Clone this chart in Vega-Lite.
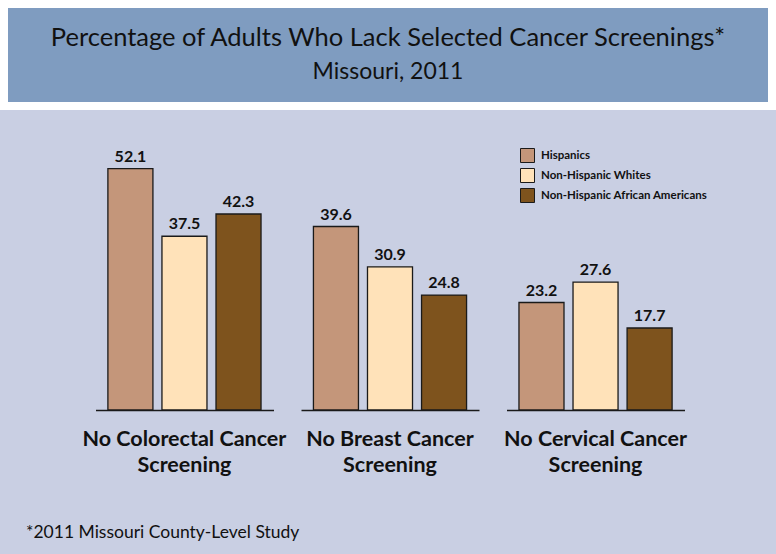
{
  "$schema": "https://vega.github.io/schema/vega-lite/v6.json",
  "background": "#c9cfe3",
  "padding": {"left": 0, "top": 0, "right": 0, "bottom": 17},
  "spacing": 22,
  "config": {"font": "Lato", "view": {"stroke": null}},
  "datasets": {
    "screenings": [
      {"category": "No Colorectal Cancer Screening", "group": "Hispanics", "value": 52.1},
      {"category": "No Colorectal Cancer Screening", "group": "Non-Hispanic Whites", "value": 37.5},
      {"category": "No Colorectal Cancer Screening", "group": "Non-Hispanic African Americans", "value": 42.3},
      {"category": "No Breast Cancer Screening", "group": "Hispanics", "value": 39.6},
      {"category": "No Breast Cancer Screening", "group": "Non-Hispanic Whites", "value": 30.9},
      {"category": "No Breast Cancer Screening", "group": "Non-Hispanic African Americans", "value": 24.8},
      {"category": "No Cervical Cancer Screening", "group": "Hispanics", "value": 23.2},
      {"category": "No Cervical Cancer Screening", "group": "Non-Hispanic Whites", "value": 27.6},
      {"category": "No Cervical Cancer Screening", "group": "Non-Hispanic African Americans", "value": 17.7}
    ],
    "banner": [
      {"line": 1, "text": "Percentage of Adults Who Lack Selected Cancer Screenings*"},
      {"line": 2, "text": "Missouri, 2011"}
    ]
  },
  "vconcat": [
    {
      "width": 768,
      "height": 102,
      "view": {"fill": "#7f9cc0", "stroke": "#ffffff", "strokeWidth": 8},
      "data": {"name": "banner"},
      "encoding": {
        "y": {"field": "line", "type": "ordinal", "axis": null, "scale": {"type": "point", "padding": 1.02}},
        "text": {"field": "text", "type": "nominal"}
      },
      "layer": [
        {"transform": [{"filter": "datum.line == 1"}], "mark": {"type": "text", "fontSize": 25.5, "color": "#111111"}},
        {"transform": [{"filter": "datum.line == 2"}], "mark": {"type": "text", "fontSize": 23, "color": "#111111"}}
      ]
    },
    {
      "width": 772,
      "height": 278,
      "data": {"name": "screenings"},
      "title": {
        "text": "*2011 Missouri County-Level Study",
        "orient": "bottom", "anchor": "start", "frame": "group",
        "dx": 22, "offset": 48, "fontSize": 17.5, "fontWeight": "normal", "color": "#111111", "font": "Lato"
      },
      "encoding": {
        "x": {
          "field": "category", "type": "nominal",
          "sort": ["No Colorectal Cancer Screening", "No Breast Cancer Screening", "No Cervical Cancer Screening"],
          "title": null,
          "scale": {"paddingInner": 0.134, "paddingOuter": 0.445},
          "axis": {
            "domain": true, "domainColor": "#1a1a1a", "domainWidth": 1.5,
            "domainDash": [0, 91.5, 178, 27.5, 178, 27.5, 178, 200],
            "ticks": false, "tickSize": 0, "labelPadding": 18,
            "labelFont": "Lato", "labelFontSize": 21.5, "labelFontWeight": "bold", "labelColor": "#111111",
            "labelLineHeight": 26, "labelLimit": 0, "labelAngle": 0,
            "labelExpr": "[replace(datum.label, ' Screening', ''), 'Screening']"
          }
        },
        "xOffset": {"field": "group", "type": "nominal", "sort": ["Hispanics", "Non-Hispanic Whites", "Non-Hispanic African Americans"], "scale": {"paddingInner": 0.167, "paddingOuter": 0.23}},
        "y": {"field": "value", "type": "quantitative", "scale": {"domain": [0, 60], "nice": false}, "axis": null}
      },
      "layer": [
        {
          "mark": {"type": "bar", "stroke": "#1a1a1a", "strokeWidth": 1.3},
          "encoding": {
            "color": {
              "field": "group", "type": "nominal",
              "scale": {"domain": ["Hispanics", "Non-Hispanic Whites", "Non-Hispanic African Americans"], "range": ["#c4967a", "#ffe2b9", "#7e531d"]},
              "legend": {
                "title": null, "orient": "none", "legendX": 516, "legendY": 144,
                "symbolType": "square", "symbolSize": 196, "symbolStrokeColor": "#1a1a1a", "symbolStrokeWidth": 1, "symbolOpacity": 1,
                "labelFont": "Lato", "labelFontSize": 11.5, "labelFontWeight": "bold", "labelColor": "#111111", "labelLimit": 0,
                "rowPadding": 1, "labelOffset": 6
              }
            }
          }
        },
        {
          "mark": {"type": "text", "dy": -7, "baseline": "alphabetic", "fontSize": 16, "fontWeight": "bold", "color": "#111111"},
          "encoding": {
            "text": {"field": "value", "type": "quantitative", "format": ".1f"}
          }
        }
      ]
    }
  ]
}
